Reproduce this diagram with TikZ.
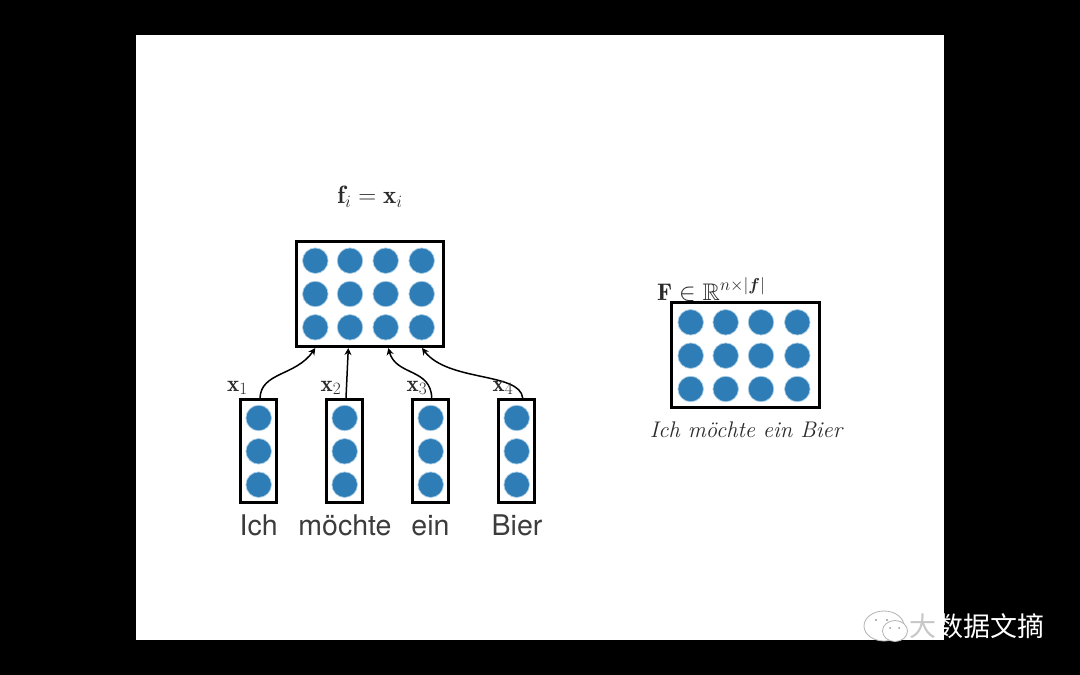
\documentclass[tikz,border=0pt]{standalone}
\usepackage{amsmath,amssymb,bm}
\usepackage{fontspec}
\newfontfamily\wordfont{TeX Gyre Heros}
\newfontfamily\cjkfont{Noto Sans CJK SC}
\usetikzlibrary{arrows.meta}
\definecolor{dotblue}{HTML}{2E7DB7}
\definecolor{dothalo}{HTML}{A9CDE4}
\definecolor{wordgray}{HTML}{3C3C3C}
\definecolor{mathgray}{HTML}{2A2A2A}
\tikzset{
  x=1pt,y=-1pt,
  dot/.style={circle,fill=dotblue,draw=dothalo,line width=0.7pt,minimum size=25.5pt,inner sep=0pt,outer sep=0pt},
  framebox/.style={draw=black,line width=3pt,fill=white,inner sep=0pt,outer sep=0pt},
  word/.style={font=\wordfont\fontsize{28.5}{28.5}\selectfont,text=wordgray,inner sep=0pt,anchor=base},
  mathlabel/.style={text=mathgray,inner sep=0pt},
  link/.style={draw=black,line width=1.5pt,-{Stealth[length=7pt,width=7pt]}},
}
\begin{document}
\begin{tikzpicture}
\useasboundingbox (0,0) rectangle (1080,675);
\fill[black] (0,0) rectangle (1080,675);
\fill[white] (136,35) rectangle (944,640);

% top box
\node[framebox,minimum width=147pt,minimum height=105pt] (top) at (369.5,293.5) {};
\foreach \cx [count=\i] in {315.3,350,385.7,421.7}
  \foreach \cy [count=\j] in {260.7,294,327.3}
    \node[dot] (t\i\j) at (\cx,\cy) {};

% right box
\node[framebox,minimum width=148.4pt,minimum height=104.6pt] (right) at (745.5,355) {};
\foreach \cx [count=\i] in {690.7,725.7,761,797.3}
  \foreach \cy [count=\j] in {322.3,355.7,389}
    \node[dot] (r\i\j) at (\cx,\cy) {};

% small boxes
\foreach \cx [count=\i] in {258.7,344.7,430.7,516.7} {
  \node[framebox,minimum width=36pt,minimum height=103.4pt] (b\i) at (\cx,451) {};
  \foreach \cy [count=\j] in {418,451.3,484.7}
    \node[dot] (s\i\j) at (\cx,\cy) {};
}

% connector ends
\coordinate (a1) at (260,398);
\coordinate (a2) at (346,398);
\coordinate (a3) at (431.7,398);
\coordinate (a4) at (522.7,398);
\coordinate (e1) at (315.3,348);
\coordinate (e2) at (348.3,348);
\coordinate (e3) at (388.3,348);
\coordinate (e4) at (422,348);
\draw[link] (a1) .. controls (261,372) and (296,376) .. (e1);
\draw[link] (a2) -- (e2);
\draw[link] (a3) .. controls (431,368) and (396,376) .. (e3);
\draw[link] (a4) .. controls (520,372) and (448,382) .. (e4);

% labels
\node[mathlabel] (lf) at (370,196.5) {\fontsize{25}{25}\selectfont $\mathbf{f}_i=\mathbf{x}_i$};
\node[mathlabel] (l1) at (237.5,388) {\fontsize{23}{23}\selectfont $\mathbf{x}_1$};
\node[mathlabel] (l2) at (331,388) {\fontsize{23}{23}\selectfont $\mathbf{x}_2$};
\node[mathlabel] (l3) at (417,388) {\fontsize{23}{23}\selectfont $\mathbf{x}_3$};
\node[mathlabel] (l4) at (503,388) {\fontsize{23}{23}\selectfont $\mathbf{x}_4$};
\node[mathlabel,anchor=base west] (lF) at (657,300) {\fontsize{24}{24}\selectfont $\mathbf{F}\in\mathbb{R}^{n\times|\bm{f}|}$};
\node[mathlabel] (sent) at (746,430) {\fontsize{22.6}{22.6}\selectfont\itshape Ich möchte ein Bier};

\node[word] (w1) at (258.7,535) {Ich};
\node[word] (w2) at (345,535) {möchte};
\node[word] (w3) at (430.5,535) {ein};
\node[word] (w4) at (517,535) {Bier};

% watermark
\begin{scope}[shift={(886,627)}]
  \draw[draw=black!30,line width=0.8pt,fill=white] (-2,-1) ellipse (20 and 15);
  \fill[black!40] (-10,-7) circle (1.2) (1,-7) circle (1.2);
  \draw[draw=black!30,line width=0.8pt,fill=white] (9,4) ellipse (12.5 and 10.5);
  \fill[black!40] (4,1) circle (1) (13,1) circle (1);
\end{scope}
\node[inner sep=0pt,anchor=base west,text=white] (mark) at (909,636)
  {\cjkfont\fontsize{27}{27}\selectfont\textcolor{black!22}{大}数据文摘};
\end{tikzpicture}
\end{document}
